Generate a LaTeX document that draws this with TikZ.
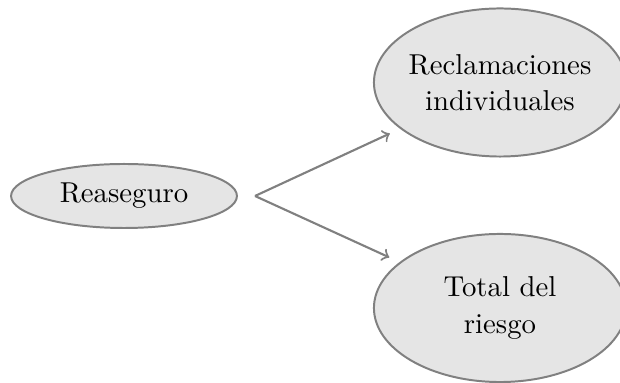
\documentclass[tikz,border=0pt]{standalone}
\usetikzlibrary{shapes.geometric,positioning}
\tikzset{
  bubble/.style={ellipse,draw=gray,line width=0.7pt,fill=gray!20,align=center,
    font=\fontsize{10.2}{12.8}\selectfont},
  bigbubble/.style={bubble,inner sep=-4pt,minimum width=89.4pt,minimum height=52.5pt},
  link/.style={->,draw=gray,line width=0.75pt,shorten >=4pt},
}
\begin{document}
\begin{tikzpicture}[x=0.3546pt,y=-0.3546pt]
  % Frame of the picture
  \useasboundingbox (0,0) rectangle (620,383);
  \clip (0,0) rectangle (620,383);
  % Source on the left, the two kinds of cover on the right
  \node[bubble,minimum width=80.1pt,minimum height=22.7pt] (rea) at (124,196) {Reaseguro};
  \node[bigbubble] (recl) at (500,82.5) {Reclamaciones\\individuales};
  \node[bigbubble] (total) at (500,308) {Total del\\riesgo};
  % Branch point just right of the source
  \coordinate (split) at (255,196);
  \draw[link] (split) -- (recl);
  \draw[link] (split) -- (total);
\end{tikzpicture}
\end{document}
